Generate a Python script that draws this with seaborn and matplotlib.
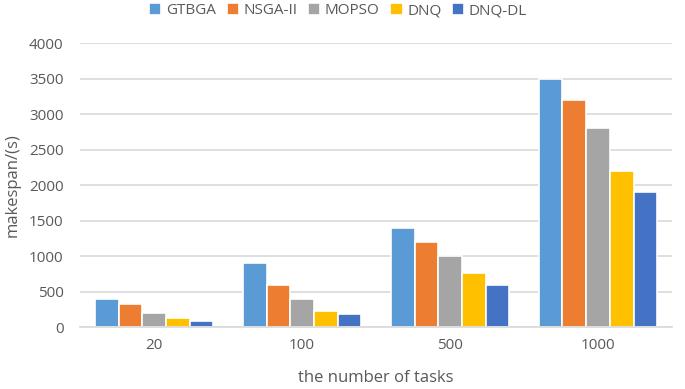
import matplotlib
matplotlib.use("Agg")
import matplotlib.pyplot as plt
import seaborn as sns
import pandas as pd

categories = ["20", "100", "500", "1000"]
algorithms = ["GTBGA", "NSGA-II", "MOPSO", "DNQ", "DNQ-DL"]
gtbga = [400, 900, 1400, 3500]
nsga2 = [330, 600, 1200, 3200]
mopso = [200, 400, 1000, 2800]
dnq = [130, 230, 760, 2200]
dnq_dl = [90, 190, 600, 1900]
colors = ["#5B9BD5", "#ED7D31", "#A5A5A5", "#FFC000", "#4472C4"]

series = [gtbga, nsga2, mopso, dnq, dnq_dl]
rows = []
for alg, vals in zip(algorithms, series):
    for c, v in zip(categories, vals):
        rows.append({"tasks": c, "alg": alg, "makespan": v})
df = pd.DataFrame(rows)

sns.set_style("white")
plt.rcParams["font.family"] = ["Open Sans", "DejaVu Sans"]
txt = "#595959"

fig = plt.figure(figsize=(6.85, 3.89), dpi=100)
ax = fig.add_axes([0.117, 0.159, 0.864, 0.730])
sns.barplot(data=df, x="tasks", y="makespan", hue="alg", order=categories,
            hue_order=algorithms, palette=colors, width=0.8, saturation=1,
            edgecolor="white", linewidth=1.2, ax=ax, legend=True)
ax.set_ylim(0, 4000)
ax.set_yticks(range(0, 4001, 500))
ax.yaxis.grid(True, color="#D9D9D9", linewidth=1.2)
ax.set_axisbelow(True)
for s in ["top", "right", "left"]:
    ax.spines[s].set_visible(False)
ax.spines["bottom"].set_color("#D9D9D9")
ax.spines["bottom"].set_linewidth(1.2)
ax.tick_params(axis="both", length=0, colors=txt, labelsize=11)
ax.tick_params(axis="y", pad=12)
ax.tick_params(axis="x", pad=8)
ax.set_xlabel("the number of tasks", color=txt, fontsize=12, labelpad=12)
ax.set_ylabel("makespan/(s)", color=txt, fontsize=12, labelpad=6)
leg = ax.legend(loc="center", bbox_to_anchor=(0.436, 1.115), ncol=5,
                frameon=False, fontsize=11, handlelength=0.8, handleheight=0.8,
                handletextpad=0.3, columnspacing=0.7, labelcolor=txt)
fig.savefig("out.png", dpi=100)
